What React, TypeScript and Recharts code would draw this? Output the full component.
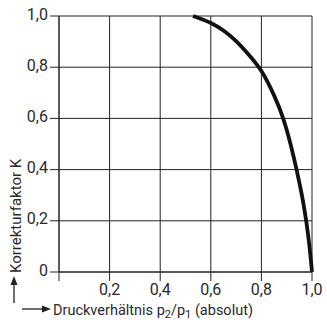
import React from 'react';
import { LineChart, Line, XAxis, YAxis, CartesianGrid } from 'recharts';

const pressureRatio = [0.53, 0.6, 0.65, 0.7, 0.75, 0.8, 0.85, 0.886, 0.915, 0.939, 0.96, 0.977, 0.99, 1.0];
const correctionK = [1.0, 0.973, 0.943, 0.902, 0.849, 0.785, 0.69, 0.6, 0.5, 0.4, 0.3, 0.2, 0.1, 0.0];
const xTicks = [0, 0.2, 0.4, 0.6, 0.8, 1.0];
const yTicks = [0, 0.2, 0.4, 0.6, 0.8, 1.0];

const data = pressureRatio.map((x, i) => ({ x, k: correctionK[i] }));

const FONT = 'Roboto, "Liberation Sans", sans-serif';
const TXT = '#2a2a2a';
const LINE = '#222';

const fmt = (v: number) => (v === 0 ? '0' : v.toFixed(1).replace('.', ','));

export default function App() {
  return (
    <div style={{ position: 'absolute', left: 0, top: 0, width: 327, height: 323 }}>
      <LineChart
        width={327}
        height={323}
        data={data}
        margin={{ top: 16, right: 15, bottom: 21, left: 0 }}
      >
        <CartesianGrid stroke={LINE} strokeWidth={1} />
        <XAxis
          type="number"
          dataKey="x"
          domain={[0, 1]}
          ticks={xTicks}
          tickFormatter={(v: number) => (v === 0 ? '' : fmt(v))}
          tickSize={9}
          tickMargin={3}
          height={30}
          axisLine={{ stroke: LINE }}
          tickLine={{ stroke: LINE }}
          tick={{ fill: TXT, fontSize: 16, fontFamily: FONT }}
          interval={0}
        />
        <YAxis
          type="number"
          domain={[0, 1]}
          ticks={yTicks}
          tickFormatter={fmt}
          tickSize={9}
          tickMargin={2}
          width={59}
          axisLine={{ stroke: LINE }}
          tickLine={{ stroke: LINE }}
          tick={{ fill: TXT, fontSize: 16, fontFamily: FONT, dy: -2 }}
          interval={0}
        />
        <Line
          dataKey="k"
          type="natural"
          stroke="#111"
          strokeWidth={3.8}
          dot={false}
          isAnimationActive={false}
        />
      </LineChart>
      <svg
        width={327}
        height={323}
        style={{ position: 'absolute', left: 0, top: 0, pointerEvents: 'none' }}
      >
        <text
          x={21}
          y={273}
          transform="rotate(-90 21 273)"
          fill={TXT}
          fontSize={15}
          fontFamily={FONT}
        >
          Korrekturfaktor K
        </text>
        <line x1={14} y1={303} x2={14} y2={283} stroke={LINE} strokeWidth={1.3} />
        <polygon points="14,276 10.5,285 17.5,285" fill={LINE} />
        <line x1={22} y1={309} x2={44} y2={309} stroke={LINE} strokeWidth={1.3} />
        <polygon points="51,309 42,305.5 42,312.5" fill={LINE} />
        <text x={53} y={315} fill={TXT} fontSize={14.5} fontFamily={FONT}>
          Druckverhältnis p
          <tspan fontSize={11} dy={3}>2</tspan>
          <tspan dy={-3}>/p</tspan>
          <tspan fontSize={11} dy={3}>1</tspan>
          <tspan dy={-3}> (absolut)</tspan>
        </text>
      </svg>
    </div>
  );
}
